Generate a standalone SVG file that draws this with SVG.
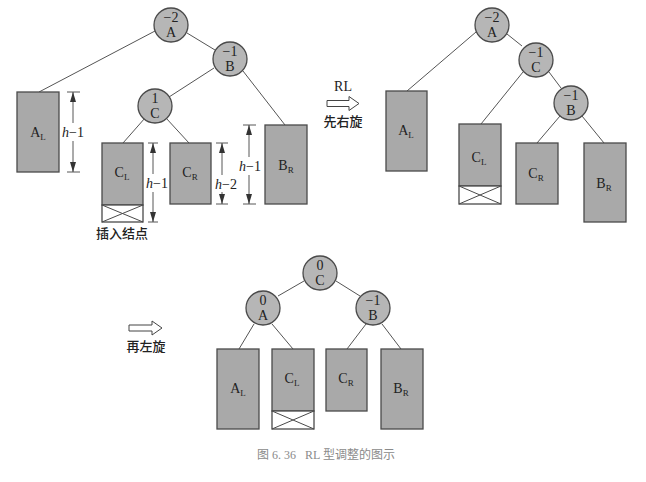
<svg xmlns="http://www.w3.org/2000/svg" width="646" height="482" viewBox="0 0 646 482">
<defs>
<style>
.n{fill:#b6b6b6;stroke:#4a4a4a;stroke-width:1.3}
.t{fill:#a9a9a9;stroke:#4a4a4a;stroke-width:1.3}
.x{fill:#fff;stroke:#4a4a4a;stroke-width:1.3}
.xl{stroke:#4a4a4a;stroke-width:1}
.e{stroke:#555;stroke-width:1;fill:none}
.d{stroke:#444;stroke-width:0.9;fill:none}
.tx{font-family:"Liberation Serif","Noto Sans CJK SC",serif;fill:#222;text-anchor:middle}
.nl{font-size:14px}
.sl{font-size:14px}
.sub{font-size:9px}
.h{font-size:14px}
.cj{font-family:"Noto Sans CJK SC",serif;fill:#222;text-anchor:middle;font-size:13px;font-weight:500}
.cap{font-family:"Liberation Serif","Noto Sans CJK SC",serif;fill:#8a8a8a;font-size:12px;text-anchor:middle}
.ar{fill:#fff;stroke:#444;stroke-width:1}
</style>
<marker id="ah" viewBox="0 0 10 6" refX="10" refY="3" markerWidth="10" markerHeight="6" markerUnits="userSpaceOnUse" orient="auto">
<path d="M0,0 L10,3 L0,6 Z" fill="#333"/>
</marker>
</defs>

<!-- connectors -->
<g id="connectors">
<!-- top-left -->
<line class="e" x1="155" y1="31" x2="39" y2="92"/>
<line class="e" x1="187" y1="33" x2="215" y2="50"/>
<line class="e" x1="214" y1="68" x2="169" y2="97"/>
<line class="e" x1="243" y1="71" x2="285" y2="125"/>
<line class="e" x1="145" y1="118" x2="123" y2="143"/>
<line class="e" x1="166" y1="118" x2="189" y2="143"/>
<!-- top-right -->
<line class="e" x1="476" y1="32" x2="407" y2="91"/>
<line class="e" x1="507" y1="34" x2="522" y2="46"/>
<line class="e" x1="523" y1="72" x2="481" y2="124"/>
<line class="e" x1="549" y1="72" x2="561" y2="88"/>
<line class="e" x1="560" y1="116" x2="537" y2="143"/>
<line class="e" x1="582" y1="116" x2="604" y2="143"/>
<!-- bottom -->
<line class="e" x1="304" y1="281" x2="278" y2="296"/>
<line class="e" x1="336" y1="281" x2="360" y2="296"/>
<line class="e" x1="254" y1="324" x2="239" y2="349"/>
<line class="e" x1="272" y1="324" x2="293" y2="349"/>
<line class="e" x1="366" y1="324" x2="347" y2="349"/>
<line class="e" x1="382" y1="324" x2="401" y2="349"/>
</g>

<!-- ===== top-left tree ===== -->
<g id="tl-A"><circle class="n" cx="171" cy="25" r="17"/><text class="tx nl" x="171" y="22">−2</text><text class="tx sl" x="171" y="37">A</text></g>
<g id="tl-B"><circle class="n" cx="230" cy="59" r="17"/><text class="tx nl" x="230" y="56">−1</text><text class="tx sl" x="230" y="71">B</text></g>
<g id="tl-C"><circle class="n" cx="155" cy="106" r="17"/><text class="tx nl" x="155" y="103">1</text><text class="tx sl" x="155" y="118">C</text></g>
<g id="tl-AL"><rect class="t" x="17" y="92" width="42" height="80"/><text class="tx sl" x="38" y="137">A<tspan class="sub" dy="3">L</tspan></text></g>
<g id="tl-CL"><rect class="t" x="102" y="143" width="41" height="62"/><rect class="x" x="102" y="205" width="41" height="17"/><line class="xl" x1="102" y1="205" x2="143" y2="222"/><line class="xl" x1="143" y1="205" x2="102" y2="222"/><text class="tx sl" x="122" y="177">C<tspan class="sub" dy="3">L</tspan></text></g>
<g id="tl-CR"><rect class="t" x="170" y="143" width="41" height="61"/><text class="tx sl" x="190" y="177">C<tspan class="sub" dy="3">R</tspan></text></g>
<g id="tl-BR"><rect class="t" x="265" y="125" width="42" height="79"/><text class="tx sl" x="286" y="170">B<tspan class="sub" dy="3">R</tspan></text></g>
<g id="tl-insert"><text class="cj" x="122" y="238">插入结点</text></g>

<!-- dimensions -->
<g id="dim-AL">
<line class="d" x1="67" y1="92" x2="80" y2="92"/><line class="d" x1="67" y1="172" x2="80" y2="172"/>
<line class="d" x1="73" y1="123" x2="73" y2="92" marker-end="url(#ah)"/>
<line class="d" x1="73" y1="141" x2="73" y2="172" marker-end="url(#ah)"/>
<text class="tx h" x="73" y="137"><tspan font-style="italic">h</tspan>−1</text>
</g>
<g id="dim-CL">
<line class="d" x1="148" y1="143" x2="158" y2="143"/><line class="d" x1="148" y1="222" x2="158" y2="222"/>
<line class="d" x1="153" y1="174" x2="153" y2="143" marker-end="url(#ah)"/>
<line class="d" x1="153" y1="192" x2="153" y2="222" marker-end="url(#ah)"/>
<text class="tx h" x="157" y="188"><tspan font-style="italic">h</tspan>−1</text>
</g>
<g id="dim-CR">
<line class="d" x1="216" y1="143" x2="228" y2="143"/><line class="d" x1="216" y1="204" x2="228" y2="204"/>
<line class="d" x1="222" y1="175" x2="222" y2="143" marker-end="url(#ah)"/>
<line class="d" x1="222" y1="192" x2="222" y2="204" marker-end="url(#ah)"/>
<text class="tx h" x="226" y="189"><tspan font-style="italic">h</tspan>−2</text>
</g>
<g id="dim-BR">
<line class="d" x1="243" y1="125" x2="256" y2="125"/><line class="d" x1="243" y1="204" x2="256" y2="204"/>
<line class="d" x1="249" y1="157" x2="249" y2="125" marker-end="url(#ah)"/>
<line class="d" x1="249" y1="175" x2="249" y2="204" marker-end="url(#ah)"/>
<text class="tx h" x="250" y="171"><tspan font-style="italic">h</tspan>−1</text>
</g>

<!-- arrow 1 -->
<g id="arrow-RL">
<text class="tx sl" x="343" y="91">RL</text>
<path class="ar" d="M327,100.5 H349 V96.5 L359,103.5 L349,110.5 V106.5 H327 Z"/>
<text class="cj" x="343" y="126">先右旋</text>
</g>

<!-- ===== top-right tree ===== -->
<g id="tr-A"><circle class="n" cx="492" cy="25" r="17"/><text class="tx nl" x="492" y="22">−2</text><text class="tx sl" x="492" y="37">A</text></g>
<g id="tr-C"><circle class="n" cx="536" cy="60" r="17"/><text class="tx nl" x="536" y="57">−1</text><text class="tx sl" x="536" y="72">C</text></g>
<g id="tr-B"><circle class="n" cx="571" cy="103" r="17"/><text class="tx nl" x="571" y="100">−1</text><text class="tx sl" x="571" y="115">B</text></g>
<g id="tr-AL"><rect class="t" x="386" y="91" width="41" height="80"/><text class="tx sl" x="406" y="135">A<tspan class="sub" dy="3">L</tspan></text></g>
<g id="tr-CL"><rect class="t" x="459" y="124" width="42" height="62"/><rect class="x" x="459" y="186" width="42" height="18"/><line class="xl" x1="459" y1="186" x2="501" y2="204"/><line class="xl" x1="501" y1="186" x2="459" y2="204"/><text class="tx sl" x="479" y="162">C<tspan class="sub" dy="3">L</tspan></text></g>
<g id="tr-CR"><rect class="t" x="516" y="143" width="42" height="61"/><text class="tx sl" x="536" y="178">C<tspan class="sub" dy="3">R</tspan></text></g>
<g id="tr-BR"><rect class="t" x="584" y="143" width="42" height="79"/><text class="tx sl" x="604" y="188">B<tspan class="sub" dy="3">R</tspan></text></g>

<!-- arrow 2 -->
<g id="arrow-left">
<path class="ar" d="M129,325 H152 V321 L162,328 L152,335 V331 H129 Z"/>
<text class="cj" x="146" y="351">再左旋</text>
</g>

<!-- ===== bottom tree ===== -->
<g id="b-C"><circle class="n" cx="320" cy="273" r="17"/><text class="tx nl" x="320" y="270">0</text><text class="tx sl" x="320" y="285">C</text></g>
<g id="b-A"><circle class="n" cx="263" cy="308" r="17"/><text class="tx nl" x="263" y="305">0</text><text class="tx sl" x="263" y="320">A</text></g>
<g id="b-B"><circle class="n" cx="373" cy="308" r="17"/><text class="tx nl" x="373" y="305">−1</text><text class="tx sl" x="373" y="320">B</text></g>
<g id="b-AL"><rect class="t" x="217" y="349" width="42" height="80"/><text class="tx sl" x="238" y="393">A<tspan class="sub" dy="3">L</tspan></text></g>
<g id="b-CL"><rect class="t" x="272" y="349" width="42" height="62"/><rect class="x" x="272" y="411" width="42" height="18"/><line class="xl" x1="272" y1="411" x2="314" y2="429"/><line class="xl" x1="314" y1="411" x2="272" y2="429"/><text class="tx sl" x="292" y="383">C<tspan class="sub" dy="3">L</tspan></text></g>
<g id="b-CR"><rect class="t" x="326" y="349" width="41" height="62"/><text class="tx sl" x="346" y="383">C<tspan class="sub" dy="3">R</tspan></text></g>
<g id="b-BR"><rect class="t" x="381" y="349" width="42" height="80"/><text class="tx sl" x="401" y="393">B<tspan class="sub" dy="3">R</tspan></text></g>

<text class="cap" x="326" y="459" xml:space="preserve">图 6. 36   RL 型调整的图示</text>
</svg>
